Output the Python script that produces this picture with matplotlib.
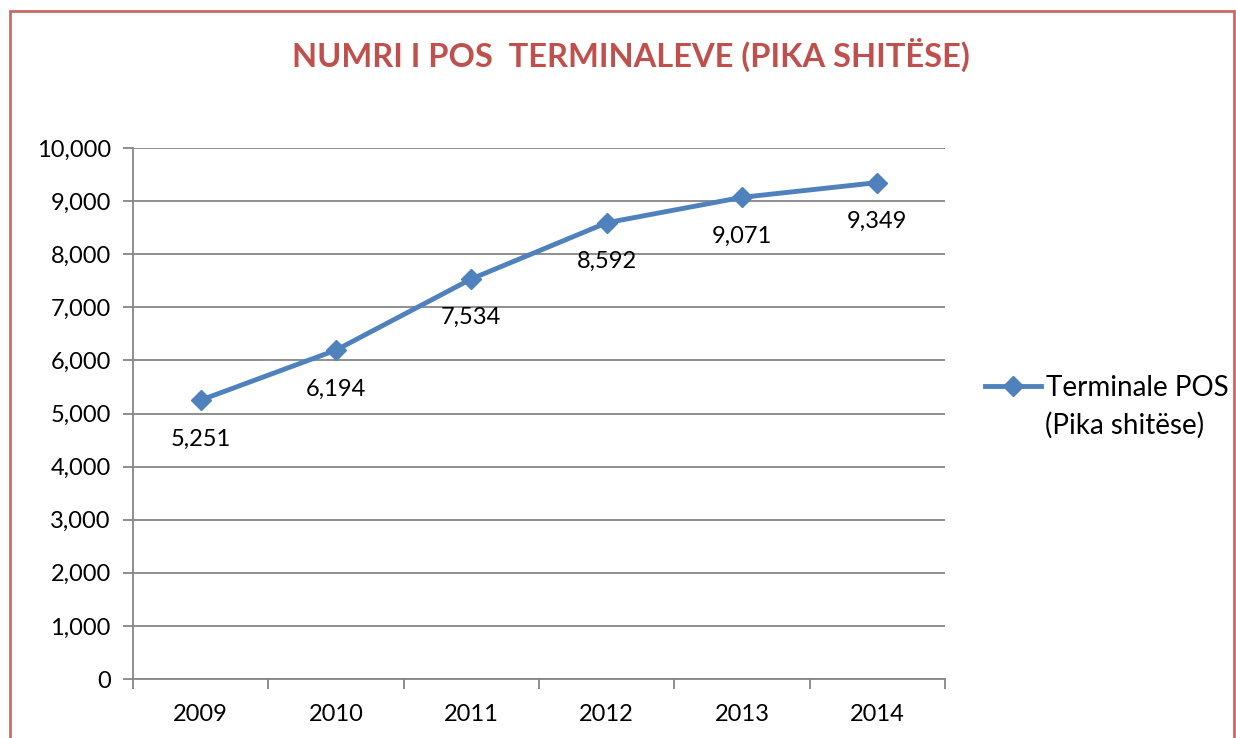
import matplotlib.pyplot as plt
from matplotlib.patches import Rectangle

plt.rcParams['font.family'] = ['Lato', 'DejaVu Sans']

# DATA
years = ["2009", "2010", "2011", "2012", "2013", "2014"]
pos_terminals = [5251, 6194, 7534, 8592, 9071, 9349]
series_name = "Terminale POS"
series_name_2 = "(Pika shitëse)"
title = "NUMRI I POS  TERMINALEVE (PIKA SHITËSE)"

blue = "#4F81BD"
red = "#C0504D"
grey = "#868686"

fig = plt.figure(figsize=(12.36, 7.38), dpi=100)
ax = fig.add_axes([133 / 1236, 1 - 679 / 738, (945 - 133) / 1236, (679 - 148) / 738])

# outer border of the chart
fig.patches.append(Rectangle((10 / 1236, -0.05), (1234 - 10) / 1236, 1 - 11 / 738 + 0.05,
                             transform=fig.transFigure, fill=False,
                             edgecolor=red, linewidth=2, alpha=0.85))

x = list(range(len(years)))
ax.plot(x, pos_terminals, color=blue, linewidth=3.5, marker="D", markersize=10,
        label=series_name)
for xi, v in zip(x, pos_terminals):
    ax.annotate(f"{v:,}", (xi, v), xytext=(0, -28), textcoords="offset points",
                ha="center", va="center", fontsize=17, color="black")

ax.set_xlim(-0.5, len(years) - 0.5)
ax.set_ylim(0, 10000)
ax.set_yticks(range(0, 10001, 1000))
ax.set_yticklabels([f"{t:,}" for t in range(0, 10001, 1000)])
ax.set_xticks(x)
ax.set_xticklabels(years)
ax.set_xticks([i - 0.5 for i in range(len(years) + 1)], minor=True)
ax.tick_params(axis="x", which="major", length=0, pad=18, labelsize=17)
ax.tick_params(axis="x", which="minor", length=7, color=grey, width=1.3)
ax.tick_params(axis="y", length=7, color=grey, width=1.3, labelsize=17, pad=9)

ax.grid(axis="y", color=grey, linewidth=1.3)
ax.set_axisbelow(True)
for side in ["top", "right"]:
    ax.spines[side].set_visible(False)
for side in ["left", "bottom"]:
    ax.spines[side].set_color(grey)
    ax.spines[side].set_linewidth(1.3)

fig.text(631 / 1236, 1 - 55 / 738, title, ha="center", va="center",
         fontsize=23.5, fontweight="bold", color=red)

leg = ax.legend(loc="center left", bbox_to_anchor=((985 - 133) / 812, 1 - (388 - 148) / 531),
                frameon=False, fontsize=20, handlelength=2.0, handletextpad=0.2,
                borderpad=0, borderaxespad=0)
fig.text(1045 / 1236, 1 - 425 / 738, series_name_2, ha="left", va="center", fontsize=20)

fig.savefig("out.png", dpi=100)
